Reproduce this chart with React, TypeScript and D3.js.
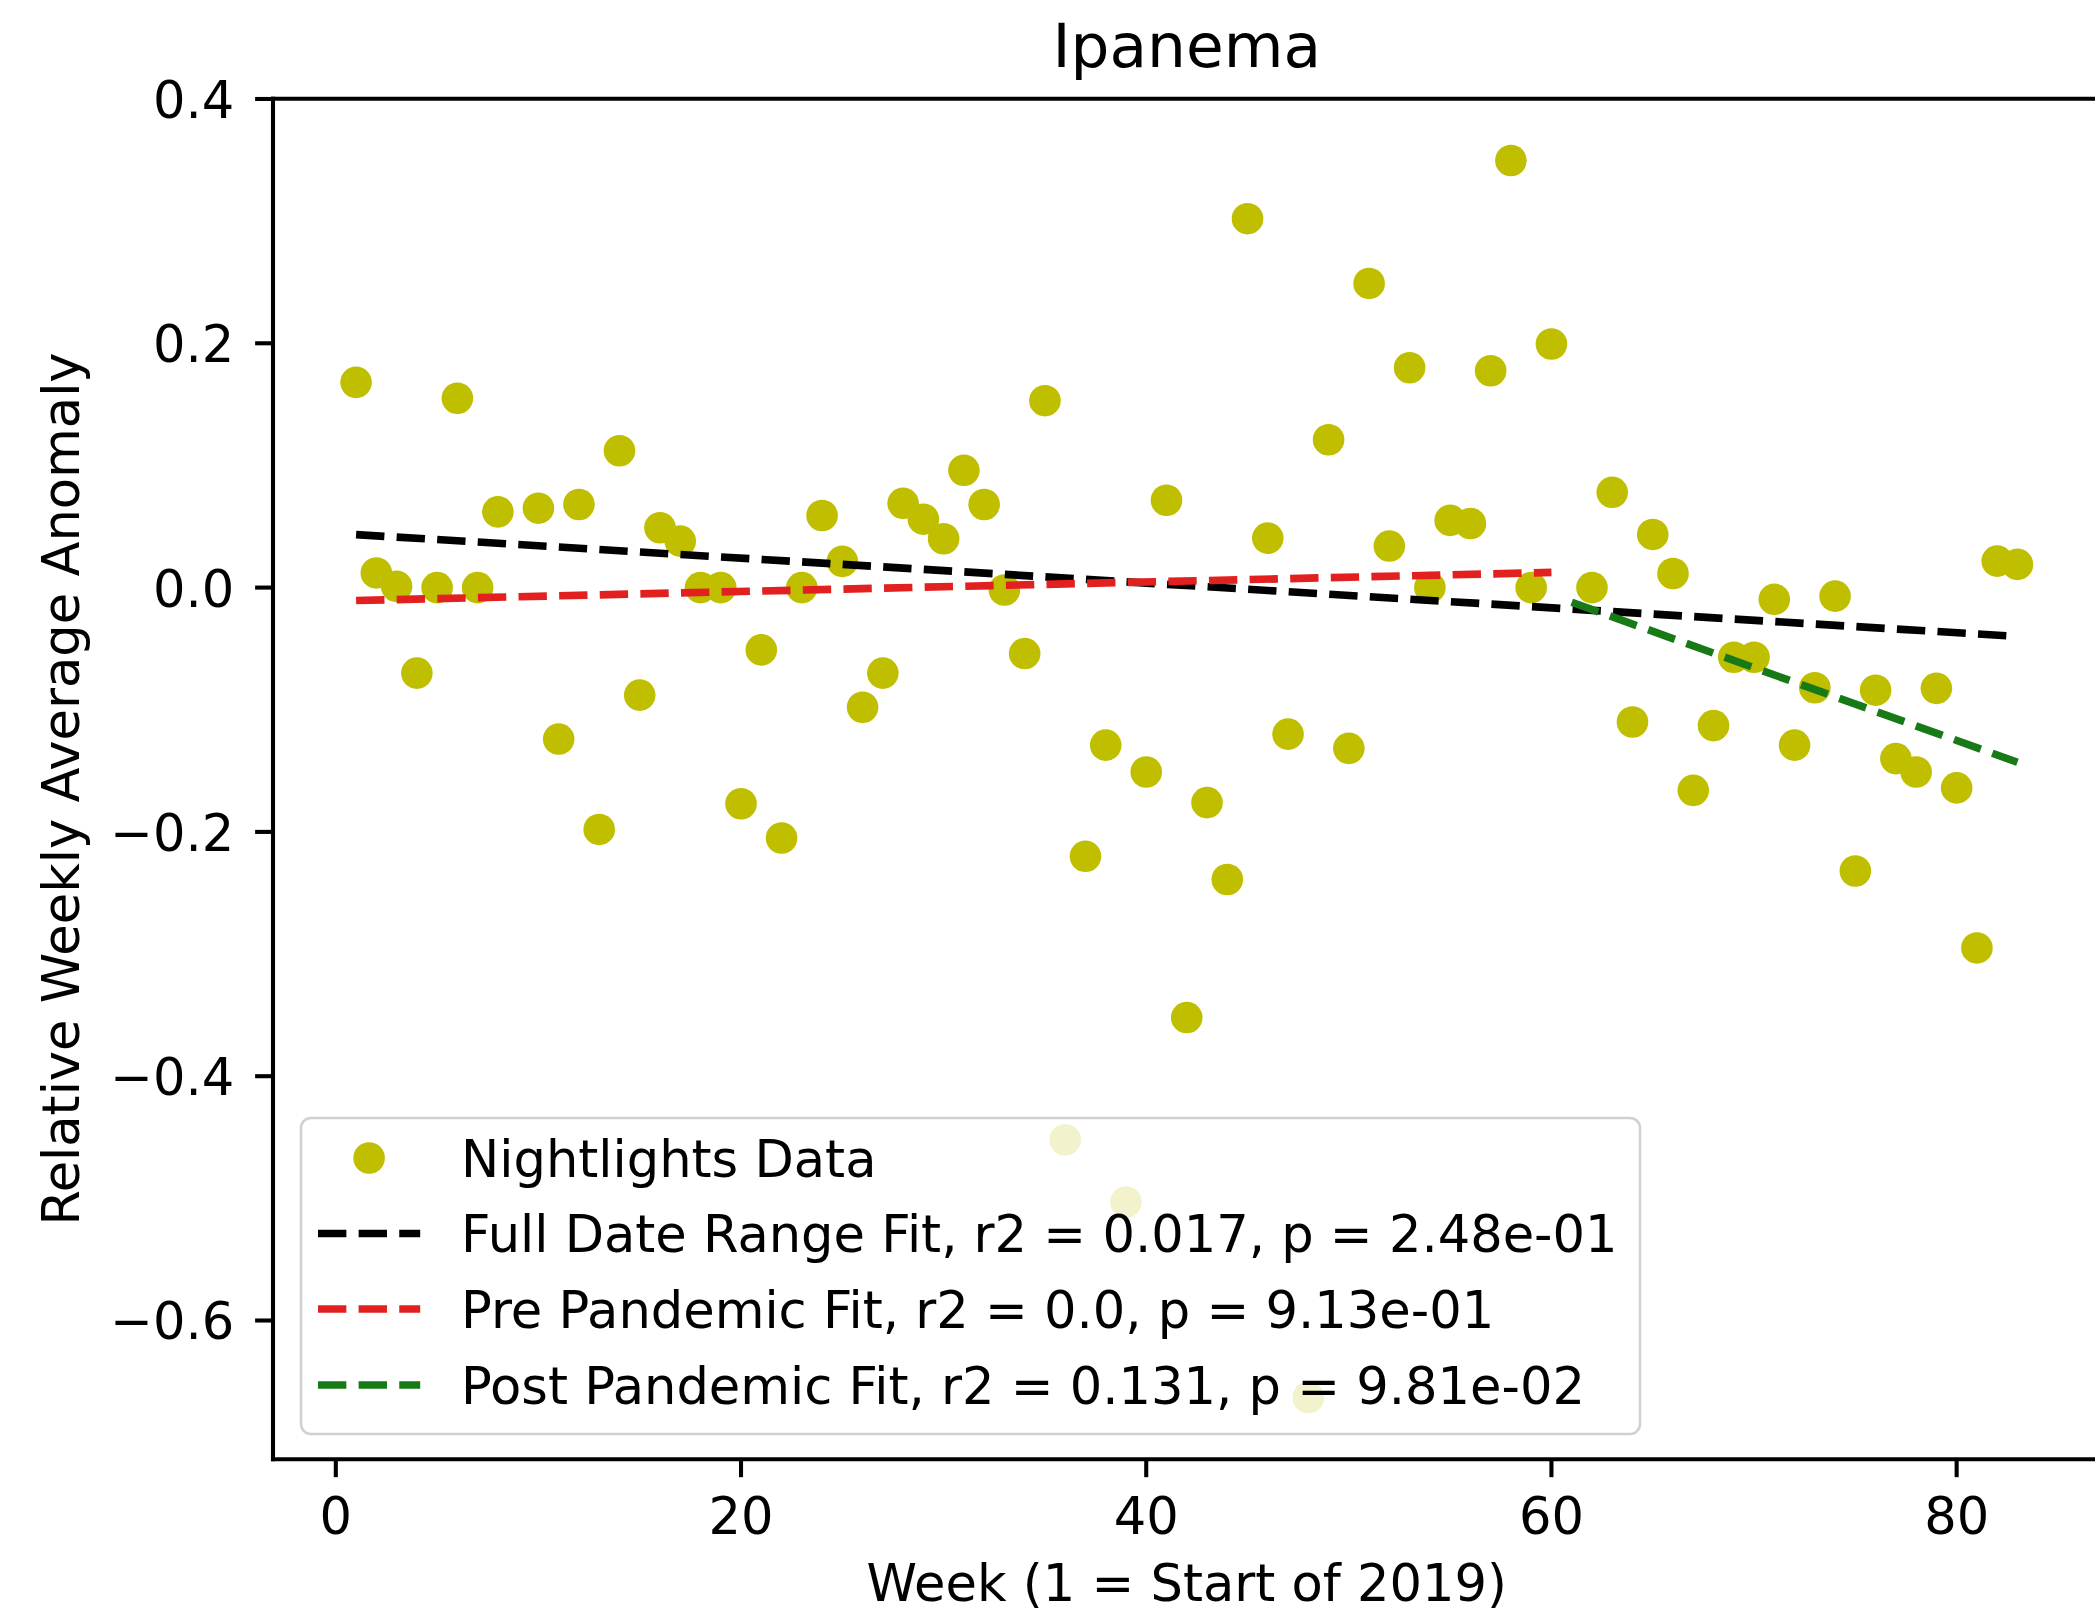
import React from 'react';
import * as d3 from 'd3';

// ---- data ----
const weeks = [
  1, 2, 3, 4, 5, 6, 7, 8, 10, 11, 12, 13, 14, 15, 16, 17, 18, 19, 20, 21, 22, 23, 24, 25, 26, 27, 28, 29, 30,
  31, 32, 33, 34, 35, 36, 37, 38, 39, 40, 41, 42, 43, 44, 45, 46, 47, 48, 49, 50, 51, 52, 53, 54, 55, 56, 57,
  58, 59, 60, 62, 63, 64, 65, 66, 67, 68, 69, 70, 71, 72, 73, 74, 75, 76, 77, 78, 79, 80, 81, 82, 83,
];
const anomaly = [
  0.168, 0.012, 0.001, -0.07, 0.0, 0.155, 0.0, 0.062, 0.065, -0.124, 0.068, -0.198, 0.112, -0.088, 0.049, 0.038,
  0.0, 0.0, -0.177, -0.051, -0.205, 0.0, 0.059, 0.0215, -0.098, -0.07, 0.069, 0.056, 0.04, 0.096, 0.068, -0.002,
  -0.054, 0.153, -0.452, -0.22, -0.129, -0.503, -0.151, 0.0715, -0.352, -0.176, -0.239, 0.302, 0.0405, -0.12,
  -0.663, 0.121, -0.1316, 0.249, 0.034, 0.18, 0.0, 0.055, 0.0525, 0.1775, 0.3496, 0.0, 0.1994, 0.0, 0.078, -0.11,
  0.0435, 0.0115, -0.166, -0.113, -0.057, -0.057, -0.0096, -0.129, -0.082, -0.007, -0.232, -0.084, -0.14, -0.151,
  -0.0825, -0.164, -0.295, 0.0217, 0.019,
];

const fullFitX = [1, 83];
const fullFitY = [0.0434, -0.04];
const preFitX = [1, 60];
const preFitY = [-0.0106, 0.0124];
const postFitX = [61, 83];
const postFitY = [-0.012, -0.143];

const legendLabels = [
  'Nightlights Data',
  'Full Date Range Fit, r2 = 0.017, p = 2.48e-01',
  'Pre Pandemic Fit, r2 = 0.0, p = 9.13e-01',
  'Post Pandemic Fit, r2 = 0.131, p = 9.81e-02',
];
const fitColors = ['#000000', '#e32020', '#177a17'];
const xTicks = [0, 20, 40, 60, 80];
const yTicks = [-0.6, -0.4, -0.2, 0.0, 0.2, 0.4];
const titleText = 'Ipanema';
const xLabel = 'Week (1 = Start of 2019)';
const yLabel = 'Relative Weekly Average Anomaly';

// ---- layout (1pt ≈ 5.11px) ----
const PT = 5.11;
const W = 2095;
const H = 1616;
const AX_L = 273;
const AX_R = 2100.5;
const AX_T = 98.7;
const AX_B = 1459.3;
const FS = 10 * PT;
const FONT = 'DejaVu Sans';
const POINT_COLOR = '#bfbf00';
const LW = 1.5 * PT;
const DASH = `${3.7 * 1.5 * PT} ${1.6 * 1.5 * PT}`;
const SPINE = 0.8 * PT;
const TICK = 3.5 * PT;
const R = 15.8;

export default function App() {
  const xAll = [...weeks, ...fullFitX, ...preFitX, ...postFitX];
  const yAll = [...anomaly, ...fullFitY, ...preFitY, ...postFitY];
  const [x0, x1] = d3.extent(xAll) as [number, number];
  const [y0, y1] = d3.extent(yAll) as [number, number];
  const xm = (x1 - x0) * 0.05;
  const ym = (y1 - y0) * 0.05;
  const x = d3.scaleLinear().domain([x0 - xm, x1 + xm]).range([AX_L, AX_R]);
  const y = d3.scaleLinear().domain([y0 - ym, y1 + ym]).range([AX_B, AX_T]);

  const line = d3
    .line<[number, number]>()
    .x((d) => x(d[0]))
    .y((d) => y(d[1]));

  const fits = [
    { xs: fullFitX, ys: fullFitY, color: fitColors[0] },
    { xs: preFitX, ys: preFitY, color: fitColors[1] },
    { xs: postFitX, ys: postFitY, color: fitColors[2] },
  ];

  const fmt = (v: number) => d3.format('.1f')(v).replace('-', '\u2212');

  // legend geometry
  const legL = 301;
  const legR = 1640;
  const legT = 1118;
  const legB = 1434;
  const rowY = [1158, 1233.5, 1309, 1385];
  const handleL = 318;
  const handleR = handleL + 2 * FS;
  const textX = handleR + 0.8 * FS;

  return (
    <svg
      width={W}
      height={H}
      viewBox={`0 0 ${W} ${H}`}
      style={{ position: 'absolute', left: 0, top: 0, background: '#fff' }}
      fontFamily={FONT}
    >
      <rect x={0} y={0} width={W} height={H} fill="#fff" />
      <defs>
        <clipPath id="axclip">
          <rect x={AX_L} y={AX_T} width={AX_R - AX_L} height={AX_B - AX_T} />
        </clipPath>
      </defs>

      {/* points and fits */}
      <g clipPath="url(#axclip)">
        {weeks.map((w, i) => (
          <circle key={i} cx={x(w)} cy={y(anomaly[i])} r={R} fill={POINT_COLOR} />
        ))}
        {fits.map((f, i) => (
          <path
            key={i}
            d={line(f.xs.map((v, j) => [v, f.ys[j]] as [number, number])) || ''}
            fill="none"
            stroke={f.color}
            strokeWidth={LW}
            strokeDasharray={DASH}
          />
        ))}
      </g>

      {/* spines */}
      <g stroke="#000" strokeWidth={SPINE} fill="none" strokeLinecap="square">
        <line x1={AX_L} y1={AX_T} x2={AX_R} y2={AX_T} />
        <line x1={AX_L} y1={AX_B} x2={AX_R} y2={AX_B} />
        <line x1={AX_L} y1={AX_T} x2={AX_L} y2={AX_B} />
        <line x1={AX_R} y1={AX_T} x2={AX_R} y2={AX_B} />
      </g>

      {/* x ticks */}
      {xTicks.map((t) => (
        <g key={t}>
          <line x1={x(t)} x2={x(t)} y1={AX_B} y2={AX_B + TICK} stroke="#000" strokeWidth={SPINE} />
          <text x={x(t)} y={1534} fontSize={FS} textAnchor="middle" fill="#000">
            {t}
          </text>
        </g>
      ))}

      {/* y ticks */}
      {yTicks.map((t) => (
        <g key={t}>
          <line x1={AX_L - TICK} x2={AX_L} y1={y(t)} y2={y(t)} stroke="#000" strokeWidth={SPINE} />
          <text x={AX_L - 2 * TICK - 3} y={y(t) + 19} fontSize={FS} textAnchor="end" fill="#000">
            {fmt(t)}
          </text>
        </g>
      ))}

      {/* labels */}
      <text x={(AX_L + AX_R) / 2} y={67} fontSize={FS * 1.2} textAnchor="middle" fill="#000">
        {titleText}
      </text>
      <text x={(AX_L + AX_R) / 2} y={1601} fontSize={FS} textAnchor="middle" fill="#000">
        {xLabel}
      </text>
      <text
        transform={`translate(79, ${789}) rotate(-90)`}
        fontSize={FS}
        textAnchor="middle"
        fill="#000"
      >
        {yLabel}
      </text>

      {/* legend */}
      <g>
        <rect
          x={legL}
          y={legT}
          width={legR - legL}
          height={legB - legT}
          rx={10}
          ry={10}
          fill="#fff"
          fillOpacity={0.8}
          stroke="#d0d0d0"
          strokeWidth={2.5}
        />
        <circle cx={(handleL + handleR) / 2} cy={rowY[0]} r={R} fill={POINT_COLOR} />
        {fits.map((f, i) => (
          <line
            key={i}
            x1={handleL}
            x2={handleR}
            y1={rowY[i + 1]}
            y2={rowY[i + 1]}
            stroke={f.color}
            strokeWidth={LW}
            strokeDasharray={DASH}
          />
        ))}
        {legendLabels.map((lab, i) => (
          <text key={i} x={textX} y={rowY[i] + 18.5} fontSize={FS} fill="#000">
            {lab}
          </text>
        ))}
      </g>
    </svg>
  );
}
